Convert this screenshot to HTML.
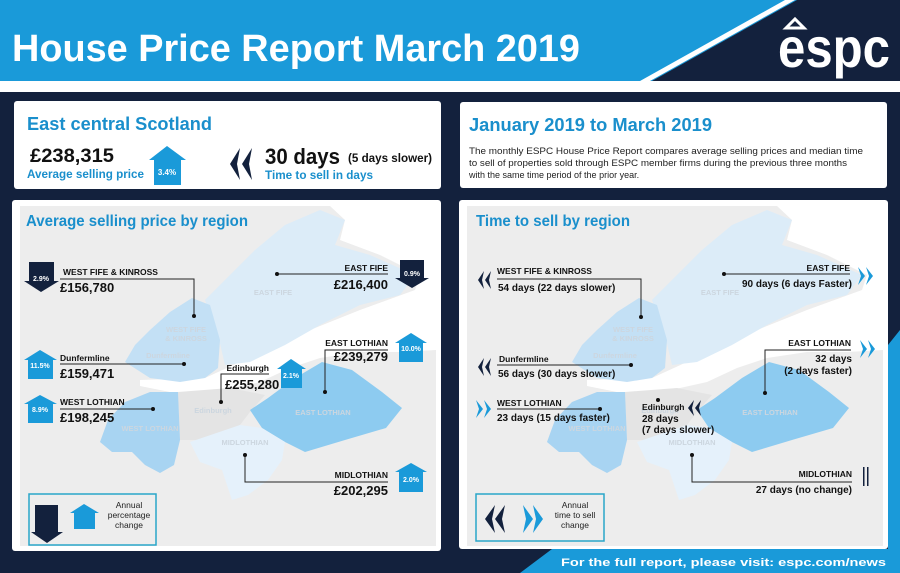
<!DOCTYPE html>
<html><head><meta charset="utf-8"><style>
html,body{margin:0;padding:0;background:#13213d;}
svg{display:block;font-family:"Liberation Sans",Arial,sans-serif;}
</style></head><body>
<svg width="900" height="573" viewBox="0 0 900 573" xmlns="http://www.w3.org/2000/svg">
<defs>
<g id="map">
  <rect x="20" y="206" width="416" height="340" fill="#ededed"/>
  <polygon fill="#ffffff" points="330,206 436,206 436,350 400,352 360,352 320,358 290,368 260,382 215,392 170,392 140,386 140,380 205,378 240,362 290,338 360,310 415,290 420,275 380,255 340,240 345,220"/>
  <polygon fill="#dcecf8" points="205,300 230,275 255,250 285,225 320,210 345,220 335,245 370,255 415,275 400,295 360,305 320,325 285,345 250,362 225,365 218,335"/>
  <polygon fill="#c3e0f5" points="125,362 135,345 150,330 170,312 192,298 210,305 220,340 218,368 205,378 180,382 150,378"/>
  <polygon fill="#e4e4e4" points="178,392 230,388 265,395 250,412 240,425 200,440 180,440"/>
  <polygon fill="#a8d4f2" points="100,442 108,420 125,402 150,392 178,392 180,440 174,465 160,473 145,465 132,452 112,452"/>
  <polygon fill="#8dcbf0" points="250,410 268,398 295,378 322,362 352,370 382,392 402,408 386,428 345,440 305,452 285,442 262,428"/>
  <polygon fill="#e5f1fb" points="190,442 240,425 262,428 285,442 282,460 268,480 248,495 232,500 222,470 200,462"/>
  <g fill="#ccd6df" font-size="7.5" font-weight="bold" text-anchor="middle">
    <text x="273" y="295">EAST FIFE</text>
    <text x="186" y="332">WEST FIFE</text><text x="186" y="341">&amp; KINROSS</text>
    <text x="168" y="358">Dunfermline</text>
    <text x="213" y="413">Edinburgh</text>
    <text x="150" y="431">WEST LOTHIAN</text>
    <text x="323" y="415">EAST LOTHIAN</text>
    <text x="245" y="445">MIDLOTHIAN</text>
  </g>
</g>
</defs>

<!-- header -->
<rect x="0" y="0" width="900" height="92" fill="#ffffff"/>
<rect x="0" y="0" width="900" height="81" fill="#1a9ad9"/>
<polygon points="640,81 785,0 795,0 650,81" fill="#ffffff"/>
<polygon points="652,81 797,0 900,0 900,81" fill="#13213d"/>
<text x="12" y="61" fill="#fff" font-size="38" font-weight="bold" textLength="568" lengthAdjust="spacingAndGlyphs">House Price Report March 2019</text>
<text x="778" y="67" fill="#fff" font-size="56" font-weight="bold" textLength="112" lengthAdjust="spacingAndGlyphs">espc</text>
<polygon points="786,28 795,19 804,28" fill="none" stroke="#fff" stroke-width="3"/>

<!-- footer -->
<polygon points="520,573 552,549 888,549 888,345 900,330 900,573" fill="#1a9ad9"/>
<text x="886" y="566" fill="#fff" font-size="11" font-weight="bold" text-anchor="end" textLength="325" lengthAdjust="spacingAndGlyphs">For the full report, please visit: espc.com/news</text>

<!-- top panels -->
<rect x="14" y="101" width="427" height="88" rx="3" fill="#fff"/>
<rect x="460" y="102" width="427" height="86" rx="3" fill="#fff"/>
<g font-weight="bold">
<text x="27" y="130" fill="#1a8fcc" font-size="18" textLength="185" lengthAdjust="spacingAndGlyphs">East central Scotland</text>
<text x="30" y="162" fill="#111" font-size="19" textLength="84" lengthAdjust="spacingAndGlyphs">£238,315</text>
<text x="27" y="178" fill="#1a8fcc" font-size="12" textLength="117" lengthAdjust="spacingAndGlyphs">Average selling price</text>
<polygon points="149,160 167,146 186,160 181,160 181,185 154,185 154,160" fill="#1a9ad9"/>
<text x="167" y="175" fill="#fff" font-size="8" text-anchor="middle">3.4%</text>
<polygon points="240,148 230,164 240,180 237,164" fill="#13213d"/>
<polygon points="252,148 242,164 252,180 249,164" fill="#13213d"/>
<text x="265" y="164" fill="#111" font-size="22" textLength="75" lengthAdjust="spacingAndGlyphs">30 days</text>
<text x="348" y="162" fill="#111" font-size="12" textLength="84" lengthAdjust="spacingAndGlyphs">(5 days slower)</text>
<text x="265" y="179" fill="#1a8fcc" font-size="12" textLength="108" lengthAdjust="spacingAndGlyphs">Time to sell in days</text>
<text x="469" y="131" fill="#1a8fcc" font-size="18" textLength="243" lengthAdjust="spacingAndGlyphs">January 2019 to March 2019</text>
</g>
<g fill="#222" font-size="9">
<text x="469" y="154" textLength="394" lengthAdjust="spacingAndGlyphs">The monthly ESPC House Price Report compares average selling prices and median time</text>
<text x="469" y="166" textLength="378" lengthAdjust="spacingAndGlyphs">to sell of properties sold through ESPC member firms during the previous three months</text>
<text x="469" y="178">with the same time period of the prior year.</text>
</g>

<!-- bottom panels -->
<rect x="12" y="200" width="429" height="351" rx="3" fill="#fff"/>
<rect x="459" y="200" width="429" height="349" rx="3" fill="#fff"/>
<use href="#map"/>
<use href="#map" transform="translate(447,0)"/>

<!-- LEFT panel content -->
<g font-weight="bold">
<text x="26" y="226" fill="#1a8fcc" font-size="16" textLength="222" lengthAdjust="spacingAndGlyphs">Average selling price by region</text>
<g stroke="#222" stroke-width="1" fill="none">
  <polyline points="60,279 194,279 194,316"/>
  <line x1="277" y1="274" x2="388" y2="274"/>
  <line x1="60" y1="364" x2="184" y2="364"/>
  <line x1="60" y1="409" x2="153" y2="409"/>
  <polyline points="269,374 221,374 221,402"/>
  <polyline points="388,350 325,350 325,392"/>
  <polyline points="245,455 245,482 388,482"/>
</g>
<g fill="#111">
  <circle cx="194" cy="316" r="2"/><circle cx="277" cy="274" r="2"/><circle cx="184" cy="364" r="2"/>
  <circle cx="153" cy="409" r="2"/><circle cx="221" cy="402" r="2"/><circle cx="325" cy="392" r="2"/><circle cx="245" cy="455" r="2"/>
</g>
<g fill="#111" font-size="8.5">
  <text x="63" y="275">WEST FIFE &amp; KINROSS</text>
  <text x="388" y="271" text-anchor="end">EAST FIFE</text>
  <text x="60" y="361">Dunfermline</text>
  <text x="60" y="405">WEST LOTHIAN</text>
  <text x="269" y="371" text-anchor="end">Edinburgh</text>
  <text x="388" y="346" text-anchor="end">EAST LOTHIAN</text>
  <text x="388" y="478" text-anchor="end">MIDLOTHIAN</text>
</g>
<g fill="#111" font-size="13">
  <text x="60" y="292">£156,780</text>
  <text x="388" y="289" text-anchor="end">£216,400</text>
  <text x="60" y="378">£159,471</text>
  <text x="60" y="422">£198,245</text>
  <text x="225" y="389">£255,280</text>
  <text x="388" y="361" text-anchor="end">£239,279</text>
  <text x="388" y="495" text-anchor="end">£202,295</text>
</g>
<g fill="#13213d">
  <polygon points="29,262 54,262 54,281 59,281 41,292 24,281 29,281"/>
  <polygon points="400,260 424,260 424,278 429,278 412,288 395,278 400,278"/>
  <polygon points="35,505 58,505 58,532 63,532 47,543 31,532 35,532"/>
</g>
<g fill="#1a9ad9">
  <polygon points="24,360 40,350 57,360 53,360 53,379 28,379 28,360"/>
  <polygon points="24,404 40,395 57,404 53,404 53,423 28,423 28,404"/>
  <polygon points="277,369 291,359 306,369 302,369 302,388 281,388 281,369"/>
  <polygon points="395,343 411,333 427,343 423,343 423,362 399,362 399,343"/>
  <polygon points="395,472 411,463 427,472 423,472 423,492 399,492 399,472"/>
  <polygon points="70,513 84,504 99,513 95,513 95,529 74,529 74,513"/>
</g>
<g fill="#fff" font-size="7" text-anchor="middle">
  <text x="41" y="281">2.9%</text><text x="412" y="276">0.9%</text>
  <text x="40" y="368">11.5%</text><text x="40" y="412">8.9%</text>
  <text x="291" y="378">2.1%</text><text x="411" y="351">10.0%</text><text x="411" y="482">2.0%</text>
</g>
</g>
<rect x="29" y="494" width="127" height="51" fill="none" stroke="#2aa6c9" stroke-width="1.5"/>
<g fill="#222" font-size="8.5" text-anchor="middle">
  <text x="129" y="508">Annual</text><text x="129" y="518">percentage</text><text x="129" y="528">change</text>
</g>

<!-- RIGHT panel content -->
<g font-weight="bold">
<text x="476" y="226" fill="#1a8fcc" font-size="16" textLength="154" lengthAdjust="spacingAndGlyphs">Time to sell by region</text>
<g stroke="#222" stroke-width="1" fill="none">
  <polyline points="497,279 641,279 641,317"/>
  <line x1="724" y1="274" x2="850" y2="274"/>
  <line x1="497" y1="365" x2="631" y2="365"/>
  <polyline points="851,350 765,350 765,393"/>
  <line x1="497" y1="409" x2="600" y2="409"/>
  <polyline points="692,455 692,482 852,482"/>
</g>
<g fill="#111">
  <circle cx="641" cy="317" r="2"/><circle cx="724" cy="274" r="2"/><circle cx="631" cy="365" r="2"/>
  <circle cx="765" cy="393" r="2"/><circle cx="600" cy="409" r="2"/><circle cx="658" cy="400" r="2"/><circle cx="692" cy="455" r="2"/>
</g>
<g fill="#111" font-size="8.5">
  <text x="497" y="274">WEST FIFE &amp; KINROSS</text>
  <text x="850" y="271" text-anchor="end">EAST FIFE</text>
  <text x="499" y="362">Dunfermline</text>
  <text x="851" y="346" text-anchor="end">EAST LOTHIAN</text>
  <text x="497" y="406">WEST LOTHIAN</text>
  <text x="642" y="410">Edinburgh</text>
  <text x="852" y="477" text-anchor="end">MIDLOTHIAN</text>
</g>
<g fill="#111" font-size="10">
  <text x="498" y="291">54 days (22 days slower)</text>
  <text x="852" y="287" text-anchor="end">90 days (6 days Faster)</text>
  <text x="498" y="377">56 days (30 days slower)</text>
  <text x="852" y="362" text-anchor="end">32 days</text>
  <text x="852" y="374" text-anchor="end">(2 days faster)</text>
  <text x="497" y="421">23 days (15 days faster)</text>
  <text x="642" y="422">28 days</text>
  <text x="642" y="433">(7 days slower)</text>
  <text x="852" y="493" text-anchor="end">27 days (no change)</text>
</g>
</g>
<g fill="#13213d">
  <polygon points="484,271 478,280 484,289 482,280"/><polygon points="491,271 485,280 491,289 489,280"/>
  <polygon points="484,358 478,367 484,376 482,367"/><polygon points="491,358 485,367 491,376 489,367"/>
  <polygon points="694,400 688,408 694,416 692,408"/><polygon points="701,400 695,408 701,416 699,408"/>
  <polygon points="495,505 485,519 495,533 492,519"/><polygon points="505,505 495,519 505,533 502,519"/>
  <rect x="863" y="467" width="1.5" height="19"/><rect x="867" y="467" width="1.5" height="19"/>
</g>
<g fill="#1a9ad9">
  <polygon points="858,267 865,276 858,285 861,276"/><polygon points="866,267 873,276 866,285 869,276"/>
  <polygon points="860,340 867,349 860,358 863,349"/><polygon points="868,340 875,349 868,358 871,349"/>
  <polygon points="476,400 483,409 476,418 479,409"/><polygon points="484,400 491,409 484,418 487,409"/>
  <polygon points="523,505 533,519 523,533 526,519"/><polygon points="533,505 543,519 533,533 536,519"/>
</g>
<rect x="476" y="494" width="128" height="47" fill="none" stroke="#2aa6c9" stroke-width="1.5"/>
<g fill="#222" font-size="8.5" text-anchor="middle">
  <text x="575" y="508">Annual</text><text x="575" y="518">time to sell</text><text x="575" y="528">change</text>
</g>
</svg>
</body></html>
